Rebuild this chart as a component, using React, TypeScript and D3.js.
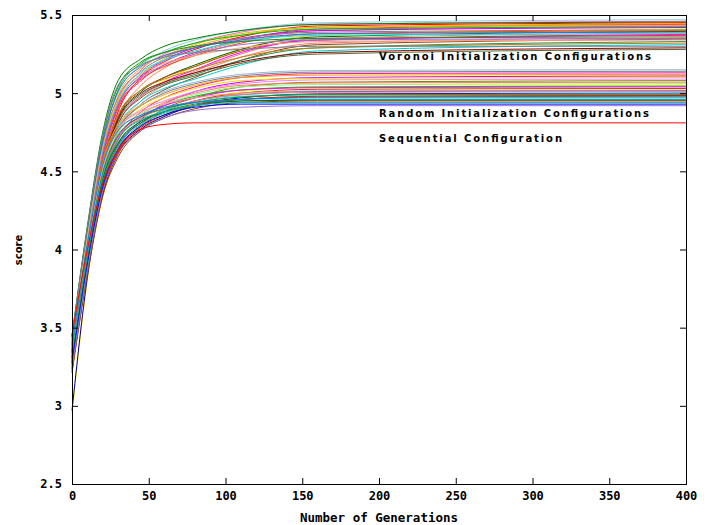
import React, { useRef, useEffect } from 'react'
import * as d3 from 'd3'

const generations = [0, 10, 20, 30, 45, 60, 80, 110, 160, 400]

const voronoiRuns = [
  [3.40, 4.10, 4.70, 5.00, 5.18, 5.27, 5.34, 5.40, 5.45, 5.47],
  [3.35, 4.05, 4.62, 4.95, 5.15, 5.25, 5.32, 5.39, 5.44, 5.46],
  [3.45, 4.15, 4.75, 5.08, 5.22, 5.30, 5.35, 5.40, 5.44, 5.455],
  [3.30, 4.00, 4.55, 4.88, 5.10, 5.20, 5.28, 5.36, 5.43, 5.45],
  [3.38, 4.08, 4.66, 4.98, 5.16, 5.24, 5.30, 5.37, 5.42, 5.445],
  [3.42, 4.02, 4.58, 4.90, 5.08, 5.18, 5.26, 5.34, 5.41, 5.44],
  [3.33, 4.06, 4.64, 4.94, 5.12, 5.22, 5.31, 5.38, 5.42, 5.435],
  [3.36, 3.98, 4.52, 4.84, 5.05, 5.16, 5.25, 5.33, 5.40, 5.43],
  [3.44, 4.12, 4.68, 5.02, 5.19, 5.26, 5.32, 5.37, 5.41, 5.425],
  [3.31, 4.03, 4.60, 4.92, 5.11, 5.21, 5.29, 5.35, 5.40, 5.42],
  [3.39, 3.96, 4.50, 4.80, 4.98, 5.08, 5.17, 5.28, 5.37, 5.41],
  [3.34, 4.09, 4.67, 4.97, 5.14, 5.23, 5.29, 5.35, 5.39, 5.405],
  [3.41, 4.04, 4.61, 4.91, 5.09, 5.17, 5.24, 5.32, 5.38, 5.40],
  [3.37, 4.00, 4.54, 4.84, 5.01, 5.10, 5.18, 5.28, 5.36, 5.395],
  [3.43, 4.11, 4.69, 5.01, 5.17, 5.24, 5.29, 5.34, 5.38, 5.39],
  [3.32, 3.95, 4.46, 4.76, 4.95, 5.05, 5.14, 5.25, 5.35, 5.385],
  [3.36, 4.07, 4.63, 4.93, 5.13, 5.21, 5.27, 5.33, 5.37, 5.38],
  [3.40, 4.01, 4.55, 4.85, 5.02, 5.10, 5.17, 5.27, 5.34, 5.375],
  [3.29, 3.97, 4.50, 4.80, 4.98, 5.07, 5.15, 5.26, 5.34, 5.37],
  [3.44, 4.13, 4.72, 5.04, 5.20, 5.26, 5.30, 5.33, 5.35, 5.36],
  [3.35, 3.99, 4.52, 4.82, 4.98, 5.06, 5.13, 5.23, 5.32, 5.355],
  [3.38, 4.05, 4.62, 4.93, 5.10, 5.18, 5.25, 5.31, 5.34, 5.35],
  [3.30, 3.94, 4.45, 4.75, 4.93, 5.02, 5.10, 5.21, 5.31, 5.345],
  [3.42, 4.08, 4.65, 4.96, 5.12, 5.19, 5.24, 5.29, 5.33, 5.34],
  [3.33, 3.98, 4.52, 4.82, 4.99, 5.06, 5.12, 5.21, 5.29, 5.33],
  [3.39, 4.03, 4.57, 4.86, 5.02, 5.09, 5.15, 5.23, 5.29, 5.32],
  [3.31, 3.96, 4.48, 4.78, 4.95, 5.03, 5.09, 5.18, 5.27, 5.31],
  [3.45, 4.14, 4.73, 5.05, 5.18, 5.23, 5.26, 5.28, 5.30, 5.30],
  [3.36, 4.00, 4.53, 4.83, 5.00, 5.07, 5.13, 5.20, 5.26, 5.29],
  [3.34, 3.97, 4.50, 4.80, 4.97, 5.05, 5.11, 5.19, 5.25, 5.28],
]

const randomRuns = [
  [3.30, 3.95, 4.48, 4.74, 4.93, 5.01, 5.07, 5.12, 5.145, 5.15],
  [3.35, 4.00, 4.52, 4.77, 4.92, 5.00, 5.06, 5.11, 5.135, 5.14],
  [3.28, 3.92, 4.43, 4.70, 4.88, 4.97, 5.04, 5.10, 5.125, 5.13],
  [3.40, 4.02, 4.55, 4.80, 4.92, 4.99, 5.05, 5.10, 5.115, 5.12],
  [3.25, 3.88, 4.38, 4.64, 4.83, 4.93, 5.01, 5.07, 5.10, 5.11],
  [3.33, 3.97, 4.50, 4.76, 4.90, 4.97, 5.03, 5.08, 5.095, 5.10],
  [3.38, 3.99, 4.52, 4.77, 4.89, 4.95, 5.01, 5.06, 5.085, 5.09],
  [3.22, 3.86, 4.36, 4.62, 4.80, 4.90, 4.97, 5.04, 5.07, 5.08],
  [3.31, 3.94, 4.46, 4.71, 4.86, 4.94, 5.00, 5.05, 5.065, 5.07],
  [3.36, 3.98, 4.50, 4.75, 4.87, 4.93, 4.99, 5.04, 5.055, 5.06],
  [2.95, 3.80, 4.33, 4.60, 4.77, 4.86, 4.94, 5.01, 5.04, 5.05],
  [3.29, 3.93, 4.45, 4.70, 4.84, 4.92, 4.98, 5.02, 5.04, 5.045],
  [3.34, 3.96, 4.48, 4.72, 4.85, 4.92, 4.97, 5.02, 5.035, 5.04],
  [3.24, 3.87, 4.38, 4.63, 4.79, 4.88, 4.95, 5.00, 5.025, 5.03],
  [3.37, 4.01, 4.53, 4.77, 4.88, 4.93, 4.97, 5.00, 5.015, 5.02],
  [3.27, 3.90, 4.41, 4.66, 4.81, 4.89, 4.95, 4.99, 5.01, 5.015],
  [3.32, 3.95, 4.47, 4.71, 4.84, 4.90, 4.95, 4.99, 5.005, 5.01],
  [2.97, 3.82, 4.35, 4.61, 4.77, 4.85, 4.92, 4.97, 4.995, 5.00],
  [3.30, 3.93, 4.44, 4.68, 4.82, 4.89, 4.94, 4.98, 4.99, 4.995],
  [3.35, 3.97, 4.49, 4.73, 4.85, 4.90, 4.94, 4.975, 4.99, 4.99],
  [3.23, 3.86, 4.37, 4.62, 4.78, 4.86, 4.92, 4.96, 4.98, 4.985],
  [3.28, 3.91, 4.42, 4.67, 4.81, 4.88, 4.93, 4.96, 4.975, 4.98],
  [3.39, 4.03, 4.54, 4.76, 4.86, 4.91, 4.94, 4.96, 4.97, 4.97],
  [3.26, 3.89, 4.40, 4.65, 4.80, 4.87, 4.92, 4.95, 4.96, 4.96],
  [3.31, 3.94, 4.45, 4.68, 4.82, 4.88, 4.92, 4.95, 4.955, 4.955],
  [3.21, 3.84, 4.34, 4.59, 4.76, 4.84, 4.90, 4.94, 4.95, 4.95],
  [3.34, 3.96, 4.47, 4.70, 4.83, 4.88, 4.92, 4.94, 4.94, 4.94],
  [3.27, 3.90, 4.40, 4.64, 4.79, 4.86, 4.91, 4.93, 4.93, 4.93],
  [3.24, 3.87, 4.37, 4.61, 4.76, 4.84, 4.89, 4.91, 4.92, 4.92],
]

const sequentialRun = [3.45, 4.00, 4.42, 4.64, 4.77, 4.80, 4.81, 4.81, 4.81, 4.81]

const voronoiColors = [
  '#87ceeb', '#ff69b4', '#008000', '#ff0000', '#ffa500', '#ff1493', '#c8c800', '#ff7f50',
  '#00c000', '#c000ff', '#ffd700', '#808080', '#ff4500', '#006400', '#4169e1', '#f08080',
  '#00eeee', '#c04000', '#ff00ff', '#228b22', '#fa8072', '#9370db', '#8b4513', '#ffa07a',
  '#2e8b57', '#b8860b', '#00ced1', '#708090', '#8b0000', '#556b2f',
]

const randomColors = [
  '#a0b6cd', '#708090', '#ff1493', '#ffa500', '#c000ff', '#ffd700', '#ee82ee', '#808000',
  '#ff7f50', '#90ee90', '#ffff00', '#00c000', '#ff00ff', '#c04000', '#ffa07a', '#4169e1',
  '#f08080', '#000080', '#00eeee', '#228b22', '#ff0000', '#556b2f', '#0080ff', '#00ced1',
  '#006400', '#8b4513', '#20b2aa', '#0000ff', '#9370db',
]

const sequentialColor = '#ff0000'

const xTicks = [0, 50, 100, 150, 200, 250, 300, 350, 400]
const yTicks = [2.5, 3, 3.5, 4, 4.5, 5, 5.5]

const notes = [
  { text: 'Voronoi Initialization Configurations', x: 200, y: 5.235, len: 272 },
  { text: 'Random Initialization Configurations', x: 200, y: 4.87, len: 270 },
  { text: 'Sequential Configuration', x: 200, y: 4.707, len: 183 },
]

export default function App() {
  const svgRef = useRef<SVGSVGElement | null>(null)
  const width = 713
  const height = 525

  useEffect(() => {
    if (!svgRef.current) return
    const svg = d3.select(svgRef.current)
    svg.selectAll('*').remove()

    const margin = { t: 15, r: 27, b: 41, l: 72 }
    const innerW = width - margin.l - margin.r
    const innerH = height - margin.t - margin.b

    const x = d3.scaleLinear().domain([0, 400]).range([0, innerW])
    const y = d3.scaleLinear().domain([2.5, 5.5]).range([innerH, 0])

    const g = svg.append('g').attr('transform', `translate(${margin.l},${margin.t})`)

    const line = d3.line<number>()
      .x((_, i) => x(generations[i]))
      .y(d => y(d))
      .curve(d3.curveMonotoneX)

    const runs = [
      ...voronoiRuns.map((d, i) => ({ values: d, color: voronoiColors[i % voronoiColors.length] })),
      ...randomRuns.map((d, i) => ({ values: d, color: randomColors[i % randomColors.length] })),
      { values: sequentialRun, color: sequentialColor },
    ]

    g.append('g')
      .selectAll('path')
      .data(runs)
      .enter()
      .append('path')
      .attr('d', d => line(d.values))
      .attr('fill', 'none')
      .attr('stroke', d => d.color)
      .attr('stroke-width', 1)

    const tickFont = 'DejaVu Sans Mono, monospace'

    const styleAxis = (sel: any) => {
      sel.select('.domain').remove()
      sel.selectAll('line').attr('stroke', '#000')
      sel.selectAll('text')
        .attr('font-family', tickFont)
        .attr('font-weight', 'bold')
        .attr('font-size', 12)
        .attr('fill', '#000')
    }

    g.append('g')
      .attr('transform', `translate(0,${innerH})`)
      .call(d3.axisBottom(x).tickValues(xTicks).tickSize(-6).tickPadding(7).tickFormat(d3.format('d')))
      .call(styleAxis)
    g.append('g')
      .call(d3.axisTop(x).tickValues(xTicks).tickSize(-6).tickFormat(() => ''))
      .call(styleAxis)
    g.append('g')
      .call(d3.axisLeft(y).tickValues(yTicks).tickSize(-6).tickPadding(10).tickFormat(d3.format('~g')))
      .call(styleAxis)
    g.append('g')
      .attr('transform', `translate(${innerW},0)`)
      .call(d3.axisRight(y).tickValues(yTicks).tickSize(-6).tickFormat(() => ''))
      .call(styleAxis)

    g.append('rect')
      .attr('x', 0).attr('y', 0)
      .attr('width', innerW).attr('height', innerH)
      .attr('fill', 'none').attr('stroke', '#000').attr('stroke-width', 1)
      .attr('shape-rendering', 'crispEdges')

    g.append('g')
      .selectAll('text')
      .data(notes)
      .enter()
      .append('text')
      .attr('x', d => x(d.x))
      .attr('y', d => y(d.y))
      .attr('dy', '0.35em')
      .attr('textLength', d => d.len)
      .attr('lengthAdjust', 'spacing')
      .attr('font-family', 'DejaVu Sans, sans-serif')
      .attr('font-weight', 'bold')
      .attr('font-size', 10)
      .attr('fill', '#000')
      .text(d => d.text)

    svg.append('text')
      .attr('x', margin.l + innerW / 2)
      .attr('y', 522)
      .attr('text-anchor', 'middle')
      .attr('font-family', tickFont)
      .attr('font-weight', 'bold')
      .attr('font-size', 12.5)
      .attr('fill', '#000')
      .text('Number of Generations')

    svg.append('text')
      .attr('transform', `translate(22,250) rotate(-90)`)
      .attr('text-anchor', 'middle')
      .attr('font-family', 'DejaVu Sans, sans-serif')
      .attr('font-weight', 'bold')
      .attr('font-size', 10)
      .attr('fill', '#000')
      .text('score')
  }, [])

  return (
    <svg
      ref={svgRef}
      width={width}
      height={height}
      style={{ position: 'absolute', left: 0, top: 0, background: '#fff' }}
    />
  )
}
